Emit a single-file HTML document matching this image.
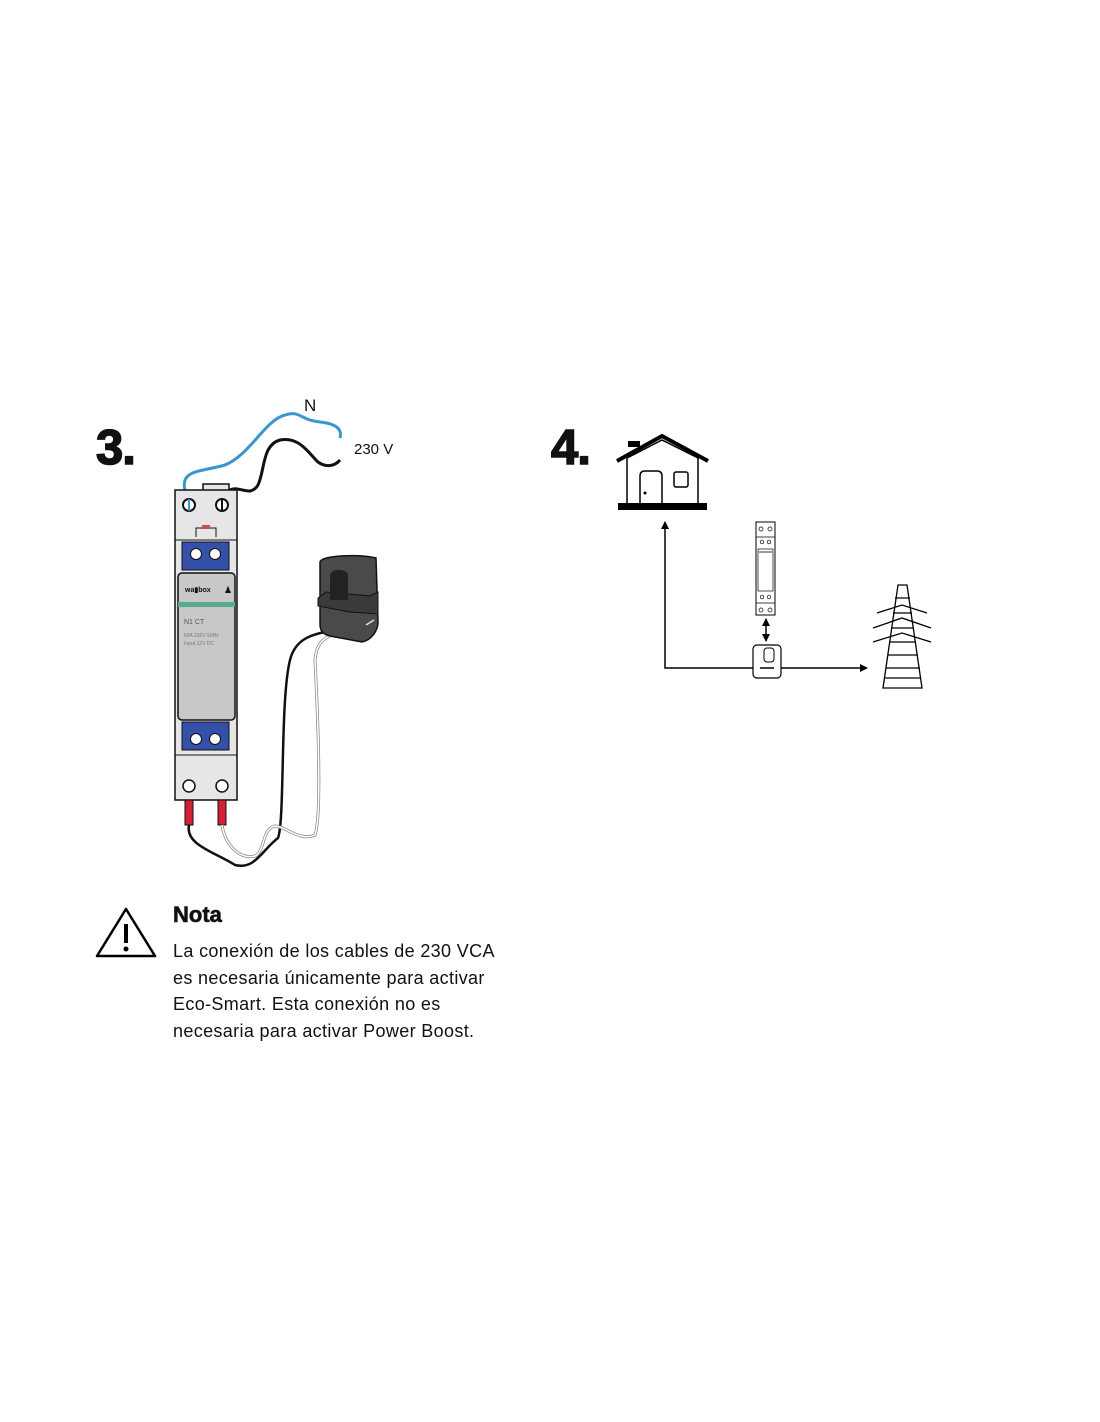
<!DOCTYPE html>
<html><head><meta charset="utf-8"><style>
html,body{margin:0;padding:0;background:#fff}
body{width:1100px;height:1422px;position:relative;overflow:hidden;font-family:"Liberation Sans",sans-serif}
.t{position:absolute;color:#111}
</style></head><body>
<svg width="1100" height="1422" style="position:absolute;left:0;top:0" xmlns="http://www.w3.org/2000/svg">
<defs><marker id="a" markerWidth="8" markerHeight="8" refX="7" refY="4" orient="auto-start-reverse" markerUnits="userSpaceOnUse"><path d="M0,0 L8,4 L0,8z" fill="#000"/></marker></defs>
<path d="M185,490 C180,470 200,472 225,465 C250,455 265,420 285,415 C300,410 300,420 320,422 C338,424 342,430 340,438" fill="none" stroke="#3a96cc" stroke-width="3"/>
<path d="M230,490 C240,485 250,498 258,485 C265,470 262,445 280,440 C300,436 310,455 318,462 C326,468 335,466 340,460" fill="none" stroke="#111" stroke-width="3"/>
<rect x="203" y="484" width="26" height="8" fill="#e6e6e6" stroke="#111" stroke-width="1.5"/>
<rect x="175" y="490" width="62" height="310" fill="#e6e6e6" stroke="#111" stroke-width="1.5"/>
<line x1="175" y1="540" x2="237" y2="540" stroke="#111"/>
<line x1="175" y1="755" x2="237" y2="755" stroke="#111"/>
<circle cx="189" cy="505" r="6" fill="#fff" stroke="#111" stroke-width="2"/>
<line x1="189" y1="499" x2="189" y2="511" stroke="#3a96cc" stroke-width="2"/>
<circle cx="222" cy="505" r="6" fill="#fff" stroke="#111" stroke-width="2"/>
<line x1="222" y1="499" x2="222" y2="511" stroke="#111" stroke-width="2"/>
<path d="M196,537 V528 H216 V537" fill="none" stroke="#111"/>
<rect x="202" y="525" width="8" height="4" fill="#b55" />
<rect x="182" y="542" width="47" height="28" fill="#3550a8" stroke="#111"/>
<circle cx="196" cy="554" r="5.5" fill="#fff" stroke="#111"/>
<circle cx="215" cy="554" r="5.5" fill="#fff" stroke="#111"/>
<rect x="178" y="573" width="57" height="147" rx="4" fill="#c8c8c8" stroke="#111" stroke-width="1.5"/>
<rect x="178" y="602" width="57" height="5" fill="#5aaa90"/>
<text x="185" y="592" font-size="7" font-weight="bold" fill="#111">wa▮box</text>
<text x="224" y="593" font-size="9" fill="#111">♟</text>
<text x="184" y="624" font-size="7" fill="#555">N1 CT</text>
<text x="184" y="637" font-size="5" fill="#777">60A 230V 50Hz</text>
<text x="184" y="645" font-size="5" fill="#777">Input 12V DC</text>
<rect x="182" y="722" width="47" height="28" fill="#3550a8" stroke="#111"/>
<circle cx="196" cy="739" r="5.5" fill="#fff" stroke="#111"/>
<circle cx="215" cy="739" r="5.5" fill="#fff" stroke="#111"/>
<circle cx="189" cy="786" r="6" fill="#fff" stroke="#111" stroke-width="1.5"/>
<circle cx="222" cy="786" r="6" fill="#fff" stroke="#111" stroke-width="1.5"/>
<rect x="185" y="800" width="8" height="25" fill="#d42035" stroke="#111"/>
<rect x="218" y="800" width="8" height="25" fill="#d42035" stroke="#111"/>
<path d="M189,825 C185,845 215,852 235,865 C255,870 262,850 278,838 C285,820 280,700 290,660 C295,640 310,635 325,632" fill="none" stroke="#111" stroke-width="2.5"/>
<path d="M222,825 C225,845 240,860 255,856 C265,852 262,828 275,826 C285,826 300,842 315,835 C322,815 318,720 315,660 C316,648 320,640 330,636" fill="none" stroke="#888" stroke-width="3"/>
<path d="M222,825 C225,845 240,860 255,856 C265,852 262,828 275,826 C285,826 300,842 315,835 C322,815 318,720 315,660 C316,648 320,640 330,636" fill="none" stroke="#fff" stroke-width="1.5"/>
<path d="M320,562 C322,555 360,554 376,558 L378,622 C378,630 372,640 362,642 L330,636 C322,634 320,630 320,624Z" fill="#4a4a4a" stroke="#111" stroke-width="1.5"/>
<path d="M318,598 L326,592 L370,596 L378,592 V614 L350,612 L318,606Z" fill="#3a3a3a" stroke="#111"/>
<path d="M330,575 C332,568 346,568 348,575 V600 H330Z" fill="#222"/>
<path d="M366,625 L374,620" stroke="#ddd" stroke-width="1.5"/>
<path d="M617,461 L662,436 L708,461" fill="none" stroke="#000" stroke-width="4"/>
<rect x="628" y="441" width="12" height="6" fill="#000"/>
<path d="M627,458 V505 M698,458 V505 M627,458 L662,440 L698,458" fill="none" stroke="#000" stroke-width="1.5"/>
<rect x="618" y="503" width="89" height="7" fill="#000"/>
<path d="M640,504 V476 Q640,471 645,471 H657 Q662,471 662,476 V504" fill="none" stroke="#000" stroke-width="1.5"/>
<circle cx="645" cy="493" r="1.5" fill="#000"/>
<rect x="674" y="472" width="14" height="15" rx="2" fill="none" stroke="#000" stroke-width="1.5"/>
<path d="M753,668 H665 V522" fill="none" stroke="#000" stroke-width="1.5" marker-end="url(#a)"/>
<path d="M781,668 H867" fill="none" stroke="#000" stroke-width="1.5" marker-end="url(#a)"/>
<path d="M766,619 V641" stroke="#000" stroke-width="1.5" marker-start="url(#a)" marker-end="url(#a)"/>
<rect x="756" y="522" width="19" height="93" fill="#fff" stroke="#000"/>
<line x1="756" y1="537" x2="775" y2="537" stroke="#000" stroke-width=".7"/>
<line x1="756" y1="603" x2="775" y2="603" stroke="#000" stroke-width=".7"/>
<rect x="758" y="549" width="15" height="42" fill="#fff" stroke="#000" stroke-width=".7"/>
<line x1="759" y1="552" x2="772" y2="552" stroke="#000" stroke-width=".8"/>
<g fill="none" stroke="#000" stroke-width=".7"><circle cx="761" cy="529" r="2"/><circle cx="770" cy="529" r="2"/><circle cx="762" cy="542" r="1.8"/><circle cx="769" cy="542" r="1.8"/><circle cx="762" cy="597" r="1.8"/><circle cx="769" cy="597" r="1.8"/><circle cx="761" cy="610" r="2"/><circle cx="770" cy="610" r="2"/></g>
<rect x="753" y="645" width="28" height="33" rx="4" fill="#fff" stroke="#000" stroke-width="1.2"/>
<rect x="764" y="648" width="10" height="14" rx="3" fill="none" stroke="#000"/>
<path d="M760,668 H774" stroke="#000" stroke-width="1.5"/>
<g fill="none" stroke="#000" stroke-width="1.3">
<path d="M898,585 H907 L922,688 H883Z"/>
<path d="M877,613 L902,605 L927,613 M873,628 L902,618 L931,628 M873,642 L902,633 L931,642"/>
<path d="M895,598 H910 M893,613 H912 M891,628 H914 M889,642 H916 M888,655 H918 M886,668 H920 M885,678 H921"/>
</g>
<path d="M126,909 L155,956 H97Z" fill="none" stroke="#000" stroke-width="2.5" stroke-linejoin="round"/>
<rect x="124" y="924" width="4" height="19" fill="#000"/>
<circle cx="126" cy="949" r="2.5" fill="#000"/>
</svg>
<div class="t" style="left:304px;top:396px;font-size:17px">N</div>
<div class="t" style="left:354px;top:441px;font-size:15px">230 V</div>
<div class="t" style="left:96px;top:420px;font-size:49px;font-weight:bold;letter-spacing:-1px;-webkit-text-stroke:1.5px #111">3.</div>
<div class="t" style="left:551px;top:420px;font-size:49px;font-weight:bold;letter-spacing:-1px;-webkit-text-stroke:1.5px #111">4.</div>
<div class="t" style="left:173px;top:902px;font-size:22px;font-weight:bold;-webkit-text-stroke:0.6px #111">Nota</div>
<div class="t" style="left:173px;top:938px;font-size:18px;line-height:26.5px;letter-spacing:0.35px">La conexión de los cables de 230 VCA<br>es necesaria únicamente para activar<br>Eco-Smart. Esta conexión no es<br>necesaria para activar Power Boost.</div>
</body></html>
